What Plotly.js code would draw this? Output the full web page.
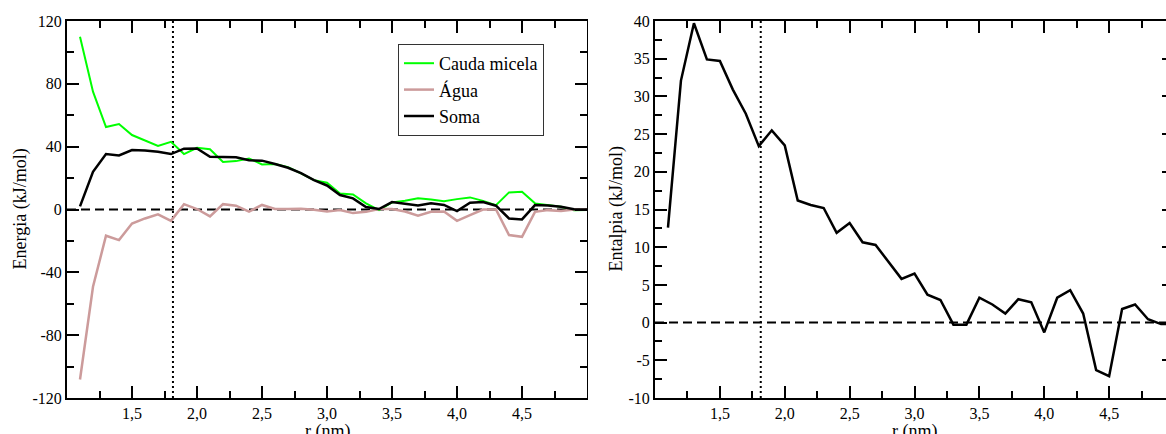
<!DOCTYPE html>
<html>
<head>
<meta charset="utf-8">
<script src="https://cdn.plot.ly/plotly-3.0.1.min.js"></script>
<style>
html, body { margin: 0; padding: 0; background: #fff; overflow: hidden; width: 1166px; height: 434px; }
#wrap { position: relative; width: 1166px; height: 434px; overflow: hidden; }
#left { position: absolute; left: 0; top: 0; width: 590px; height: 434px; }
#right { position: absolute; left: 588px; top: 0; width: 592px; height: 434px; }
#wrap svg text { font-family: "Liberation Serif", "Times New Roman", serif !important; fill: #000 !important; }
#wrap .xtick text, #wrap .ytick text { font-size: 16px !important; }
#wrap .annotation-text { font-size: 18px !important; }
#wrap .legendtext { font-size: 18px !important; }
</style>
</head>
<body>
<div id="wrap"><div id="left"></div><div id="right"></div></div>
<script>
// ---- data ----
const rLeft = [1.1, 1.2, 1.3, 1.4, 1.5, 1.6, 1.7, 1.8, 1.9, 2.0,
               2.1, 2.2, 2.3, 2.4, 2.5, 2.6, 2.7, 2.8, 2.9, 3.0,
               3.1, 3.2, 3.3, 3.4, 3.5, 3.6, 3.7, 3.8, 3.9, 4.0,
               4.1, 4.2, 4.3, 4.4, 4.5, 4.6, 4.7, 4.8, 4.9, 5.0];
const caudaMicela = [110, 75, 52.5, 54.4, 47.4, 43.7, 40.4, 43.1, 35.3, 39.3,
                     38.4, 30.2, 30.8, 32.5, 28.7, 29, 27, 23, 18.7, 17,
                     10.2, 9.6, 3.9, -0.4, 4.5, 5.6, 7.1, 6.3, 5.2, 6.6,
                     7.7, 5.5, 2.8, 10.9, 11.3, 3.9, 2.8, 1.7, -0.4, -0.3];
const agua = [-108.2, -49.2, -16.7, -19.5, -8.9, -5.7, -3.1, -7.2, 3.4, 0.3,
              -4.4, 3.4, 2.4, -1.3, 2.9, 0.3, 0.3, 0.5, -0.2, -1.3,
              -0.4, -2.3, -1.5, 0.3, 0.3, -1.3, -4, -1.5, -1.3, -7.2,
              -3.6, 0, 0, -16.3, -17.4, -1.5, -0.4, -1, 0, 0];
const soma = [2, 24, 35.3, 34.4, 37.8, 37.6, 36.7, 35.3, 38.7, 38.9,
              33.6, 33.4, 33.2, 31.3, 31.1, 29, 26.6, 23.2, 18.7, 15.3,
              9.2, 7.1, 1.6, 0.3, 4.7, 3.6, 2.5, 4, 2.9, -1,
              4.3, 4.7, 2.4, -5.7, -6.3, 2.8, 2.6, 1.7, 0.2, 0];

const rRight = [1.1, 1.2, 1.3, 1.4, 1.5, 1.6, 1.7, 1.8, 1.9, 2.0,
                2.1, 2.2, 2.3, 2.4, 2.5, 2.6, 2.7, 2.8, 2.9, 3.0,
                3.1, 3.2, 3.3, 3.4, 3.5, 3.6, 3.7, 3.8, 3.9, 4.0,
                4.1, 4.2, 4.3, 4.4, 4.5, 4.6, 4.7, 4.8, 4.9, 5.0];
const entalpia = [12.6, 32.1, 39.7, 34.9, 34.7, 30.9, 27.7, 23.4, 25.5, 23.5,
                  16.2, 15.6, 15.2, 11.9, 13.2, 10.65, 10.3, 8.0, 5.8, 6.5,
                  3.7, 3.0, -0.27, -0.27, 3.3, 2.4, 1.2, 3.1, 2.7, -1.3,
                  3.3, 4.3, 1.2, -6.3, -7.1, 1.8, 2.4, 0.45, -0.2, -0.2];

// reference lines: dashed zero line across r, dotted line at r = 1.815 nm
const rRange = [1, 5];
const zeroLine = [0, 0];
const rMarker = [1.815, 1.815];
const energiaRange = [-120, 120];
const entalpiaRange = [-10, 40];

const seriesNames = ["Cauda micela", "\u00c1gua", "Soma"];
const xTitle = "r (nm)";
const yTitleLeft = "Energia (kJ/mol)";
const yTitleRight = "Entalpia (kJ/mol)";

const xTickVals = [1.5, 2.0, 2.5, 3.0, 3.5, 4.0, 4.5];
const xTickText = ["1,5", "2,0", "2,5", "3,0", "3,5", "4,0", "4,5"];
const yLeftTickVals = [-120, -80, -40, 0, 40, 80, 120];
const yLeftTickText = ["-120", "-80", "-40", "0", "40", "80", "120"];
const yRightTickVals = [-10, -5, 0, 5, 10, 15, 20, 25, 30, 35, 40];
const yRightTickText = ["-10", "-5", "0", "5", "10", "15", "20", "25", "30", "35", "40"];

// ---- styling ----
const FONT = "Liberation Serif";
function tickFont() { return {family: FONT, size: 16, color: "#000000"}; }
function titleFont() { return {family: FONT, size: 18, color: "#000000"}; }

function axisBase(extra) {
  return Object.assign({
    showline: true, linecolor: "#000000", linewidth: 2, mirror: "ticks",
    ticks: "inside", ticklen: 12, tickwidth: 2, tickcolor: "#000000",
    showgrid: false, zeroline: false,
    tickfont: tickFont(), fixedrange: true
  }, extra);
}
function xAxis() {
  return axisBase({
    range: rRange, tickmode: "array", tickvals: xTickVals, ticktext: xTickText,
    minor: {dtick: 0.25, tick0: 1, ticks: "inside", ticklen: 7}
  });
}
function refTraces(yRange) {
  return [
    {x: rRange, y: zeroLine, type: "scatter", mode: "lines", showlegend: false, hoverinfo: "skip",
     line: {color: "#000000", width: 2, dash: "9px,5px"}},
    {x: rMarker, y: yRange, type: "scatter", mode: "lines", showlegend: false, hoverinfo: "skip",
     line: {color: "#000000", width: 2, dash: "2px,3px"}}
  ];
}
function axisTitles(yText, yShiftX) {
  return [
    {text: xTitle, xref: "paper", yref: "paper", x: 0.5, y: 0, xanchor: "center", yanchor: "top",
     yshift: -21, showarrow: false, font: titleFont()},
    {text: yText, xref: "paper", yref: "paper", x: 0, y: 0.5, xanchor: "center", yanchor: "middle",
     xshift: yShiftX, textangle: -90, showarrow: false, font: titleFont()}
  ];
}

const H = 434, mT = 21, mB = 36;

// ---- left: Energia ----
const leftTraces = refTraces(energiaRange).concat([
  {x: rLeft, y: caudaMicela, name: seriesNames[0], type: "scatter", mode: "lines",
   line: {color: "#00ff00", width: 2}},
  {x: rLeft, y: agua, name: seriesNames[1], type: "scatter", mode: "lines",
   line: {color: "#cc9b9b", width: 2.5}},
  {x: rLeft, y: soma, name: seriesNames[2], type: "scatter", mode: "lines",
   line: {color: "#000000", width: 2.5}}
]);
const leftLayout = {
  width: 590, height: H,
  margin: {l: 67, r: 3, t: mT, b: mB, pad: 0},
  separators: ",.",
  font: {family: FONT, color: "#000000", size: 16},
  showlegend: true,
  legend: {
    x: (398 - 67) / 520, y: (398 - 44) / (H - mT - mB),
    xanchor: "left", yanchor: "top",
    bgcolor: "#ffffff", bordercolor: "#333333", borderwidth: 1,
    font: {family: FONT, size: 18, color: "#000000"}
  },
  xaxis: xAxis(),
  yaxis: axisBase({
    range: energiaRange, tickmode: "array", tickvals: yLeftTickVals, ticktext: yLeftTickText,
    minor: {dtick: 20, tick0: 0, ticks: "inside", ticklen: 7}
  }),
  annotations: axisTitles(yTitleLeft, -47)
};

// ---- right: Entalpia ----
const rightTraces = refTraces(entalpiaRange).concat([
  {x: rRight, y: entalpia, name: "Entalpia", type: "scatter", mode: "lines",
   line: {color: "#000000", width: 2.5}}
]);
const rightLayout = {
  width: 592, height: H,
  margin: {l: 67, r: 6, t: mT, b: mB, pad: 0},
  separators: ",.",
  font: {family: FONT, color: "#000000", size: 16},
  showlegend: false,
  xaxis: xAxis(),
  yaxis: axisBase({
    range: entalpiaRange, tickmode: "array", tickvals: yRightTickVals, ticktext: yRightTickText,
    minor: {dtick: 2.5, tick0: 0, ticks: "inside", ticklen: 7}
  }),
  annotations: axisTitles(yTitleRight, -39)
};

const cfg = {displayModeBar: false, staticPlot: true};
Plotly.newPlot("left", leftTraces, leftLayout, cfg);
Plotly.newPlot("right", rightTraces, rightLayout, cfg);
</script>
</body>
</html>
